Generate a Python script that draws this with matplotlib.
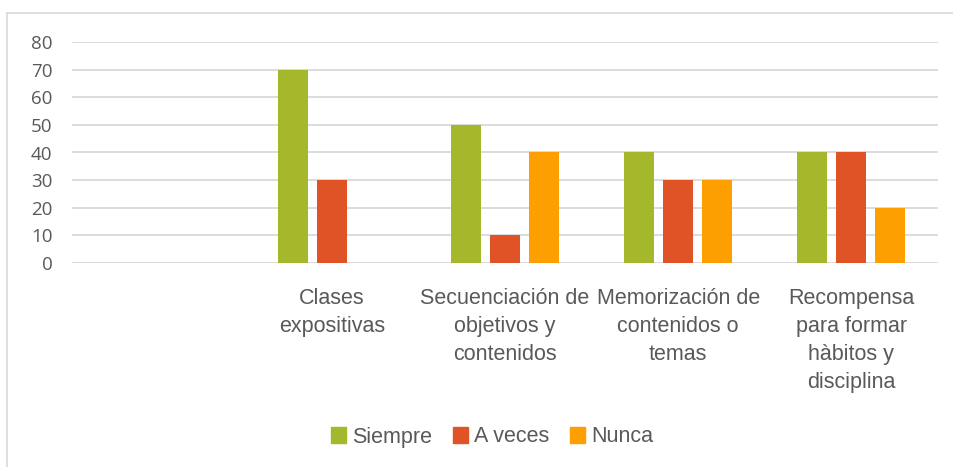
import numpy as np
import matplotlib
matplotlib.use("Agg")
import matplotlib.pyplot as plt
from matplotlib.lines import Line2D

plt.rcParams["font.family"] = ["Liberation Sans Narrow", "Liberation Sans", "DejaVu Sans"]

# ─── Données ────────────────────────────────────────────────────────────────
categories = ["",
              "Clases\nexpositivas",
              "Secuenciación de\nobjetivos y\ncontenidos",
              "Memorización de\ncontenidos o\ntemas",
              "Recompensa\npara formar\nhàbitos y\ndisciplina"]
series = ["Siempre", "A veces", "Nunca"]
siempre = [0, 70, 50, 40, 40]
a_veces = [0, 30, 10, 30, 40]
nunca   = [0, 0, 40, 30, 20]
yticks  = [0, 10, 20, 30, 40, 50, 60, 70, 80]

GREEN  = "#a5b72a"
RED    = "#e05327"
ORANGE = "#fd9e01"
TXT    = "#595959"
GRID   = "#d9d9d9"

fig = plt.figure(figsize=(9.54, 4.67), dpi=100)
ax = fig.add_axes([72/954, 1 - 263/467, (938 - 72)/954, (263 - 42)/467])

x = np.arange(len(categories))
w = 0.173
step = 0.225
for vals, col, off, lab in [(siempre, GREEN, -step, series[0]),
                            (a_veces, RED, 0, series[1]),
                            (nunca, ORANGE, step, series[2])]:
    ax.bar(x + off, vals, width=w, color=col, label=lab, zorder=3)

ax.set_xlim(-0.5, len(categories) - 0.5)
ax.set_ylim(0, 80)
ax.set_yticks(yticks)
ax.set_xticks(x)
ax.set_xticklabels(categories, fontsize=15.5, color=TXT, linespacing=1.43)
ax.tick_params(axis="x", length=0, pad=18)
ax.tick_params(axis="y", length=0, pad=14, labelsize=13.5, labelcolor=TXT)
for lbl in ax.get_yticklabels():
    lbl.set_family(["Open Sans", "DejaVu Sans"])
ax.yaxis.grid(True, color=GRID, lw=1.3, zorder=0)
for s in ax.spines.values():
    s.set_visible(False)

handles = [plt.Rectangle((0, 0), 1, 1, color=c) for c in (GREEN, RED, ORANGE)]
fig.legend(handles, series, loc="center", bbox_to_anchor=(492/954, 1 - 437/467),
           ncol=3, frameon=False, fontsize=15.5, handlelength=0.7, handleheight=0.7,
           handletextpad=0.25, columnspacing=1.0, labelcolor=TXT)

# bordure du graphique
fig.add_artist(Line2D([7/954, 7/954], [0, 1 - 13/467], transform=fig.transFigure,
                      color=GRID, lw=1.2))
fig.add_artist(Line2D([7/954, 1], [1 - 13/467, 1 - 13/467], transform=fig.transFigure,
                      color=GRID, lw=1.2))

fig.savefig("out.png", dpi=100, facecolor="white")
